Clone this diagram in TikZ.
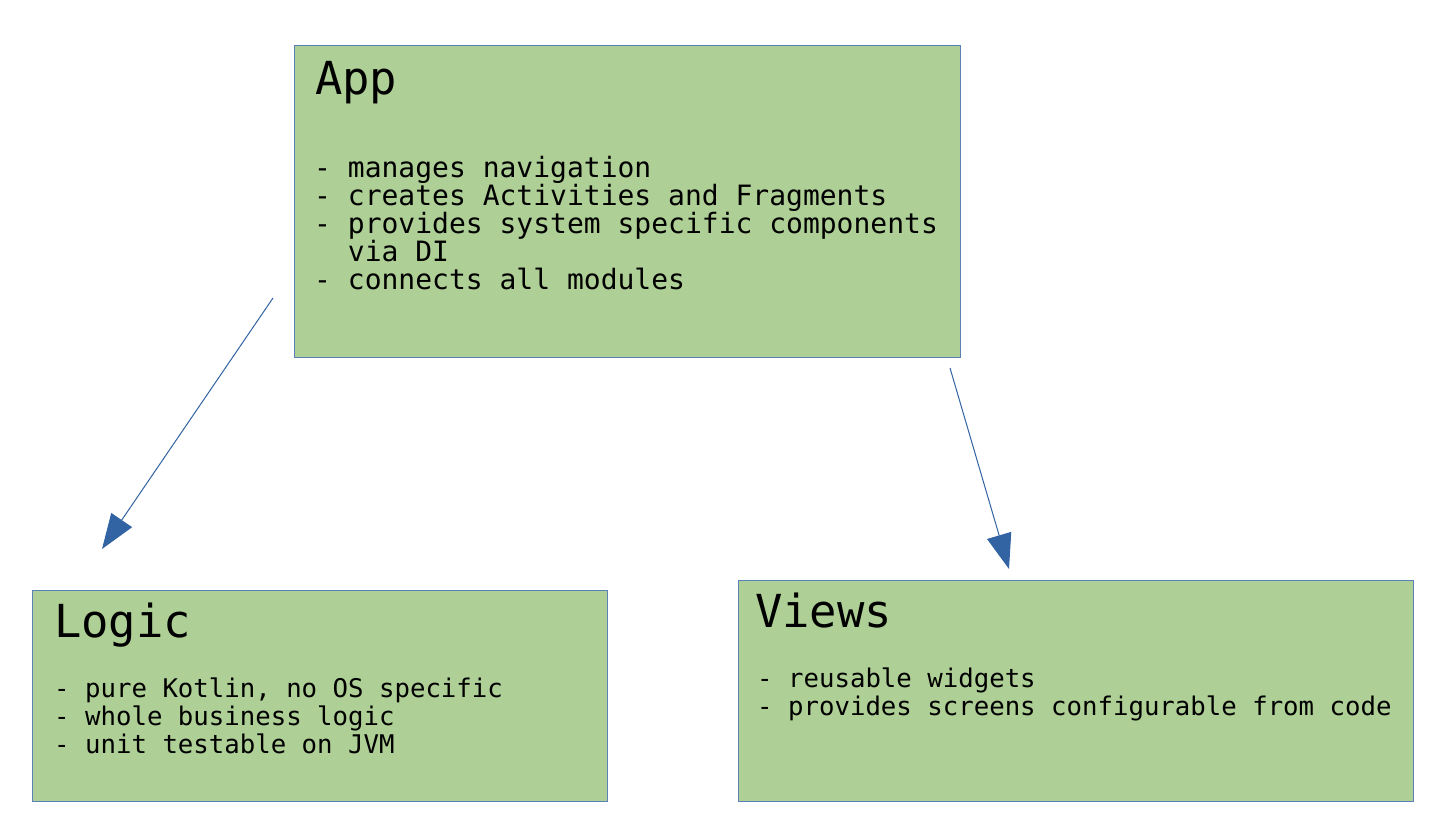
\documentclass[tikz,border=0pt]{standalone}
\usepackage{fontspec}
\usetikzlibrary{arrows.meta}
\newfontfamily\consfont{DejaVu Sans Mono}
\definecolor{boxfill}{HTML}{AECF95}
\definecolor{boxline}{HTML}{5A80B8}
\definecolor{arrowblue}{HTML}{3263A3}
\tikzset{
  box/.style={draw=boxline, fill=boxfill, line width=1bp, anchor=north west, inner sep=0pt},
  title/.style={anchor=base west, inner sep=0pt, font=\consfont\fontsize{45.5bp}{46bp}\selectfont},
  bigline/.style={anchor=base west, inner sep=0pt, font=\consfont\fontsize{28bp}{28bp}\selectfont},
  smallline/.style={anchor=base west, inner sep=0pt, font=\consfont\fontsize{25.7bp}{28bp}\selectfont},
  conn/.style={draw=arrowblue, line width=1bp, -{Triangle[length=35bp,width=25bp]}, arrowblue}
}
\begin{document}
\begin{tikzpicture}[x=1bp,y=-1bp]
\useasboundingbox (0,0) rectangle (1441,826);
\fill[white] (0,0) rectangle (1441,826);
% boxes
\node[box, minimum width=666bp, minimum height=312bp] (app) at (294,45) {};
\node[box, minimum width=575bp, minimum height=211bp] (logic) at (32,590) {};
\node[box, minimum width=675bp, minimum height=221bp] (views) at (738,580) {};
% App text
\node[title] (apptitle) at (315,94) {App};
\node[bigline] (app1) at (314,177) {- manages navigation};
\node[bigline] (app2) at (314,205) {- creates Activities and Fragments};
\node[bigline] (app3) at (314,233) {- provides system specific components};
\node[bigline] (app4) at (314,261) {\ \ via DI};
\node[bigline] (app5) at (314,289) {- connects all modules};
% Logic text
\node[title] (logictitle) at (54,637) {Logic};
\node[smallline] (logic1) at (54,697) {- pure Kotlin, no OS specific};
\node[smallline] (logic2) at (54,725) {- whole business logic};
\node[smallline] (logic3) at (54,753) {- unit testable on JVM};
% Views text
\node[title] (viewstitle) at (755,627) {Views};
\node[smallline] (views1) at (757,687) {- reusable widgets};
\node[smallline] (views2) at (757,715) {- provides screens configurable from code};
% arrows
\coordinate (a1s) at (273,298);
\coordinate (a1e) at (102,549);
\coordinate (a2s) at (950,368);
\coordinate (a2e) at (1009,569);
\draw[conn] (a1s) -- (a1e);
\draw[conn] (a2s) -- (a2e);
\end{tikzpicture}
\end{document}
